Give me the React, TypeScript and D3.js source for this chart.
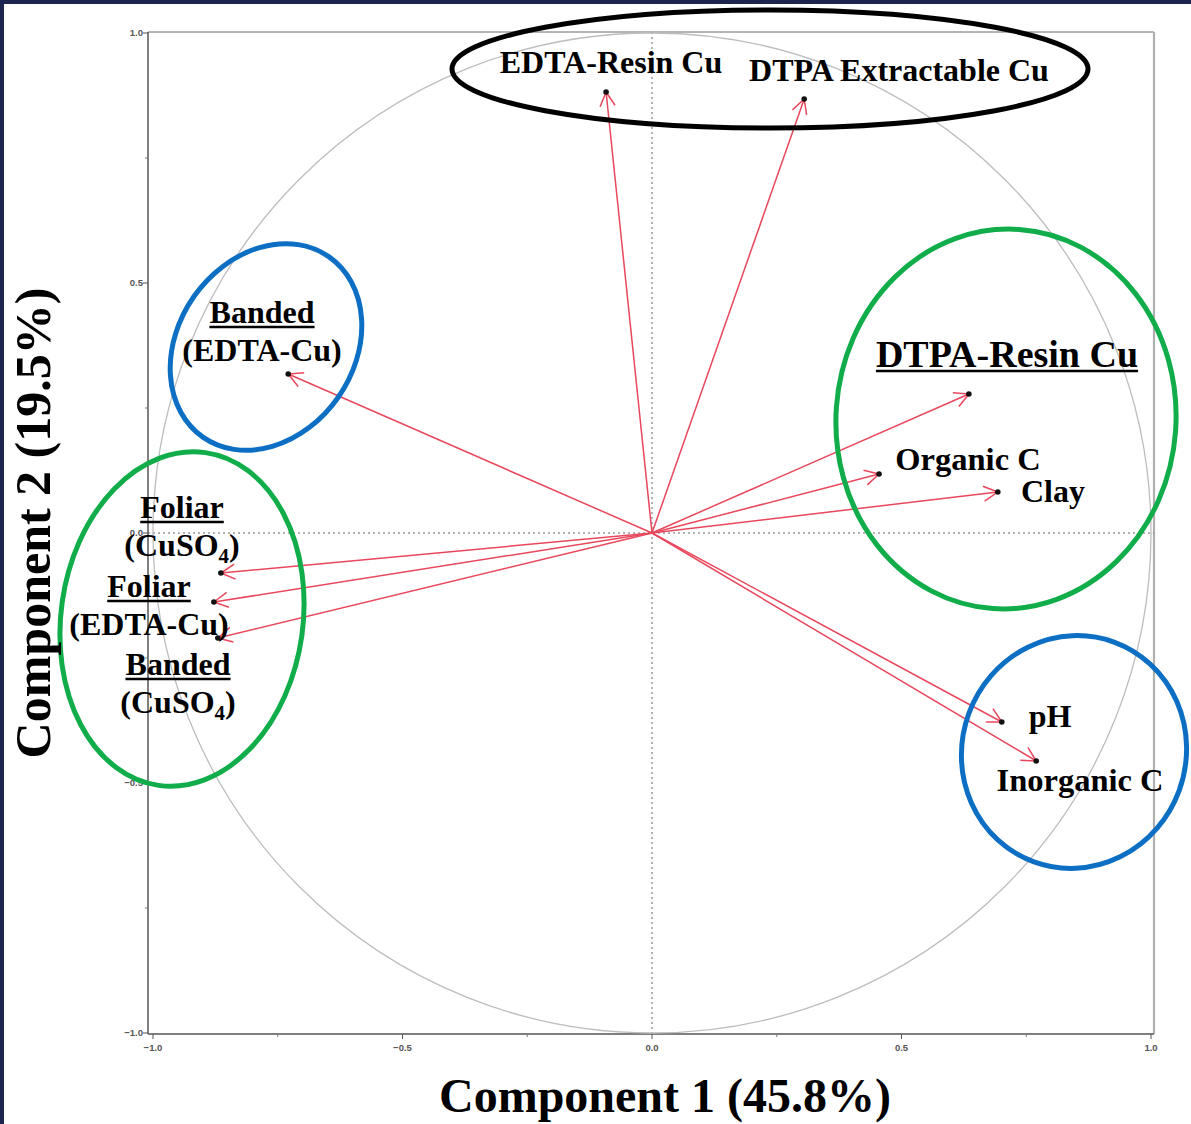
import React from "react";
import * as d3 from "d3";

// ---- data (loadings) ----
const variables = [
  "EDTA-Resin Cu",
  "DTPA Extractable Cu",
  "Banded (EDTA-Cu)",
  "DTPA-Resin Cu",
  "Organic C",
  "Clay",
  "Foliar (CuSO4)",
  "Foliar (EDTA-Cu)",
  "Banded (CuSO4)",
  "pH",
  "Inorganic C",
];
const comp1 = [-0.092, 0.305, -0.729, 0.635, 0.455, 0.693, -0.864, -0.878, -0.87, 0.701, 0.77];
const comp2 = [0.882, 0.868, 0.318, 0.278, 0.118, 0.082, -0.08, -0.138, -0.21, -0.378, -0.456];

const majorTicks = [-1.0, -0.5, 0.0, 0.5, 1.0];
const minorTicks = [-0.75, -0.25, 0.25, 0.75];
const xTitle = "Component 1 (45.8%)";
const yTitle = "Component 2 (19.5%)";

// ---- annotation layout (pixels) ----
type Part = { t: string; sub?: boolean };
type Line = { parts: Part[]; x: number; y: number; size: number; underline?: boolean; anchor?: string };
const labelLines: Line[] = [
  { parts: [{ t: "EDTA-Resin Cu" }], x: 611, y: 73, size: 32 },
  { parts: [{ t: "DTPA Extractable Cu" }], x: 899, y: 81, size: 32 },
  { parts: [{ t: "Banded" }], x: 262, y: 323, size: 32, underline: true },
  { parts: [{ t: "(EDTA-Cu)" }], x: 262, y: 361, size: 32 },
  { parts: [{ t: "DTPA-Resin Cu" }], x: 1007, y: 367, size: 38, underline: true },
  { parts: [{ t: "Organic C" }], x: 968, y: 470, size: 32.5 },
  { parts: [{ t: "Clay" }], x: 1053, y: 502, size: 32 },
  { parts: [{ t: "Foliar" }], x: 182, y: 518, size: 32, underline: true },
  { parts: [{ t: "(CuSO" }, { t: "4", sub: true }, { t: ")" }], x: 182, y: 556, size: 32 },
  { parts: [{ t: "Foliar" }], x: 149, y: 597, size: 32, underline: true },
  { parts: [{ t: "(EDTA-Cu)" }], x: 149, y: 635, size: 32 },
  { parts: [{ t: "Banded" }], x: 178, y: 675, size: 32, underline: true },
  { parts: [{ t: "(CuSO" }, { t: "4", sub: true }, { t: ")" }], x: 178, y: 713, size: 32 },
  { parts: [{ t: "pH" }], x: 1050, y: 727, size: 32 },
  { parts: [{ t: "Inorganic C" }], x: 1080, y: 791, size: 32.5 },
];

type Ell = { cx: number; cy: number; rx: number; ry: number; rot: number; color: string };
const groupEllipses: Ell[] = [
  { cx: 770, cy: 69, rx: 318, ry: 59, rot: 0, color: "#000000" },
  { cx: 266, cy: 347, rx: 88, ry: 110, rot: 35, color: "#0d6fc3" },
  { cx: 182, cy: 619, rx: 121, ry: 168, rot: 8, color: "#10ad4a" },
  { cx: 1006, cy: 419, rx: 170, ry: 190, rot: 4, color: "#10ad4a" },
  { cx: 1074, cy: 752, rx: 112, ry: 117, rot: 20, color: "#0d6fc3" },
];

const W = 1191;
const H = 1124;
const SERIF = "'Liberation Serif', 'Times New Roman', serif";
const SANS = "'Liberation Sans', Arial, sans-serif";

function Label({ l }: { l: Line }) {
  const ref = React.useRef<SVGTextElement>(null);
  const [w, setW] = React.useState(0);
  React.useEffect(() => {
    if (ref.current) setW(ref.current.getBBox().width);
  }, []);
  const anchor = l.anchor || "middle";
  const x0 = anchor === "middle" ? l.x - w / 2 : l.x;
  return (
    <g>
      <text
        ref={ref}
        x={l.x}
        y={l.y}
        textAnchor={anchor}
        fontFamily={SERIF}
        fontWeight="bold"
        fontSize={l.size}
        fill="#000"
      >
        {l.parts.map((p, i) =>
          p.sub ? (
            <tspan key={i} fontSize={l.size * 0.65} dy={l.size * 0.22}>
              {p.t}
            </tspan>
          ) : (
            <tspan key={i} dy={i > 0 && l.parts[i - 1].sub ? -l.size * 0.22 : 0}>
              {p.t}
            </tspan>
          )
        )}
      </text>
      {l.underline && w > 0 && (
        <line x1={x0} x2={x0 + w} y1={l.y + 4} y2={l.y + 4} stroke="#000" strokeWidth={2.4} />
      )}
    </g>
  );
}

export default function App() {
  const x = d3.scaleLinear().domain([-1, 1]).range([153, 1151]);
  const y = d3.scaleLinear().domain([-1, 1]).range([1033, 33]);
  const left = 148,
    right = 1154,
    top = 32,
    bottom = 1034;
  const fmt = d3.format(".1f");
  const arrowColor = "#e8475c";
  const headLen = 16;
  const headAng = (28 * Math.PI) / 180;

  return (
    <div style={{ position: "absolute", left: 0, top: 0 }}>
      <svg width={W} height={H} style={{ display: "block", background: "#fff" }}>
        <rect x={0} y={0} width={W} height={H} fill="#fff" />
        {/* frame */}
        <line x1={left} x2={right} y1={top} y2={top} stroke="#6a6a6a" strokeWidth={1} />
        <line x1={right} x2={right} y1={top} y2={bottom} stroke="#b0b0b0" strokeWidth={2.2} />
        <line x1={left} x2={left} y1={top} y2={bottom} stroke="#555" strokeWidth={1.5} />
        <line x1={left} x2={right} y1={bottom} y2={bottom} stroke="#555" strokeWidth={1.5} />
        {/* ticks */}
        {majorTicks.map((t) => (
          <g key={"mx" + t}>
            <line x1={x(t)} x2={x(t)} y1={bottom} y2={bottom + 5} stroke="#555" strokeWidth={1} />
            <text x={x(t)} y={bottom + 17} textAnchor="middle" fontFamily={SANS} fontWeight="bold" fontSize={9.5} fill="#555">
              {fmt(t)}
            </text>
            <line x1={left - 5} x2={left} y1={y(t)} y2={y(t)} stroke="#555" strokeWidth={1} />
            <text x={left - 5} y={y(t) + 3} textAnchor="end" fontFamily={SANS} fontWeight="bold" fontSize={9.5} fill="#555">
              {fmt(t)}
            </text>
          </g>
        ))}
        {minorTicks.map((t) => (
          <g key={"mn" + t}>
            <line x1={x(t)} x2={x(t)} y1={bottom} y2={bottom + 3} stroke="#777" strokeWidth={1} />
            <line x1={left - 3} x2={left} y1={y(t)} y2={y(t)} stroke="#777" strokeWidth={1} />
          </g>
        ))}
        {/* zero lines */}
        <line x1={left} x2={right} y1={y(0)} y2={y(0)} stroke="#666" strokeWidth={1} strokeDasharray="2,3" />
        <line x1={x(0)} x2={x(0)} y1={top} y2={bottom} stroke="#666" strokeWidth={1} strokeDasharray="2,3" />
        {/* correlation circle */}
        <ellipse cx={x(0)} cy={y(0)} rx={x(1) - x(0)} ry={y(0) - y(1)} fill="none" stroke="#bdbdbd" strokeWidth={1.3} />
        {/* arrows */}
        {variables.map((v, i) => {
          const px = x(comp1[i]);
          const py = y(comp2[i]);
          const ang = Math.atan2(py - y(0), px - x(0));
          const a1 = ang + Math.PI - headAng;
          const a2 = ang + Math.PI + headAng;
          return (
            <g key={v}>
              <line x1={x(0)} y1={y(0)} x2={px} y2={py} stroke={arrowColor} strokeWidth={1.5} />
              <line x1={px} y1={py} x2={px + headLen * Math.cos(a1)} y2={py + headLen * Math.sin(a1)} stroke={arrowColor} strokeWidth={1.5} />
              <line x1={px} y1={py} x2={px + headLen * Math.cos(a2)} y2={py + headLen * Math.sin(a2)} stroke={arrowColor} strokeWidth={1.5} />
              <circle cx={px} cy={py} r={2.8} fill="#111" />
            </g>
          );
        })}
        {/* labels */}
        {labelLines.map((l, i) => (
          <Label key={i} l={l} />
        ))}
        {/* group ellipses */}
        {groupEllipses.map((e, i) => (
          <ellipse
            key={i}
            cx={e.cx}
            cy={e.cy}
            rx={e.rx}
            ry={e.ry}
            transform={`rotate(${e.rot} ${e.cx} ${e.cy})`}
            fill="none"
            stroke={e.color}
            strokeWidth={5}
          />
        ))}
        {/* axis titles */}
        <text x={665} y={1112} textAnchor="middle" fontFamily={SERIF} fontWeight="bold" fontSize={48} fill="#000">
          {xTitle}
        </text>
        <text
          transform={`translate(50, 523) rotate(-90)`}
          textAnchor="middle"
          fontFamily={SERIF}
          fontWeight="bold"
          fontSize={50}
          fill="#000"
        >
          {yTitle}
        </text>
        {/* navy frame */}
        <rect x={0} y={0} width={W} height={4} fill="#1b2550" />
        <rect x={0} y={0} width={4} height={H} fill="#1b2550" />
      </svg>
    </div>
  );
}
